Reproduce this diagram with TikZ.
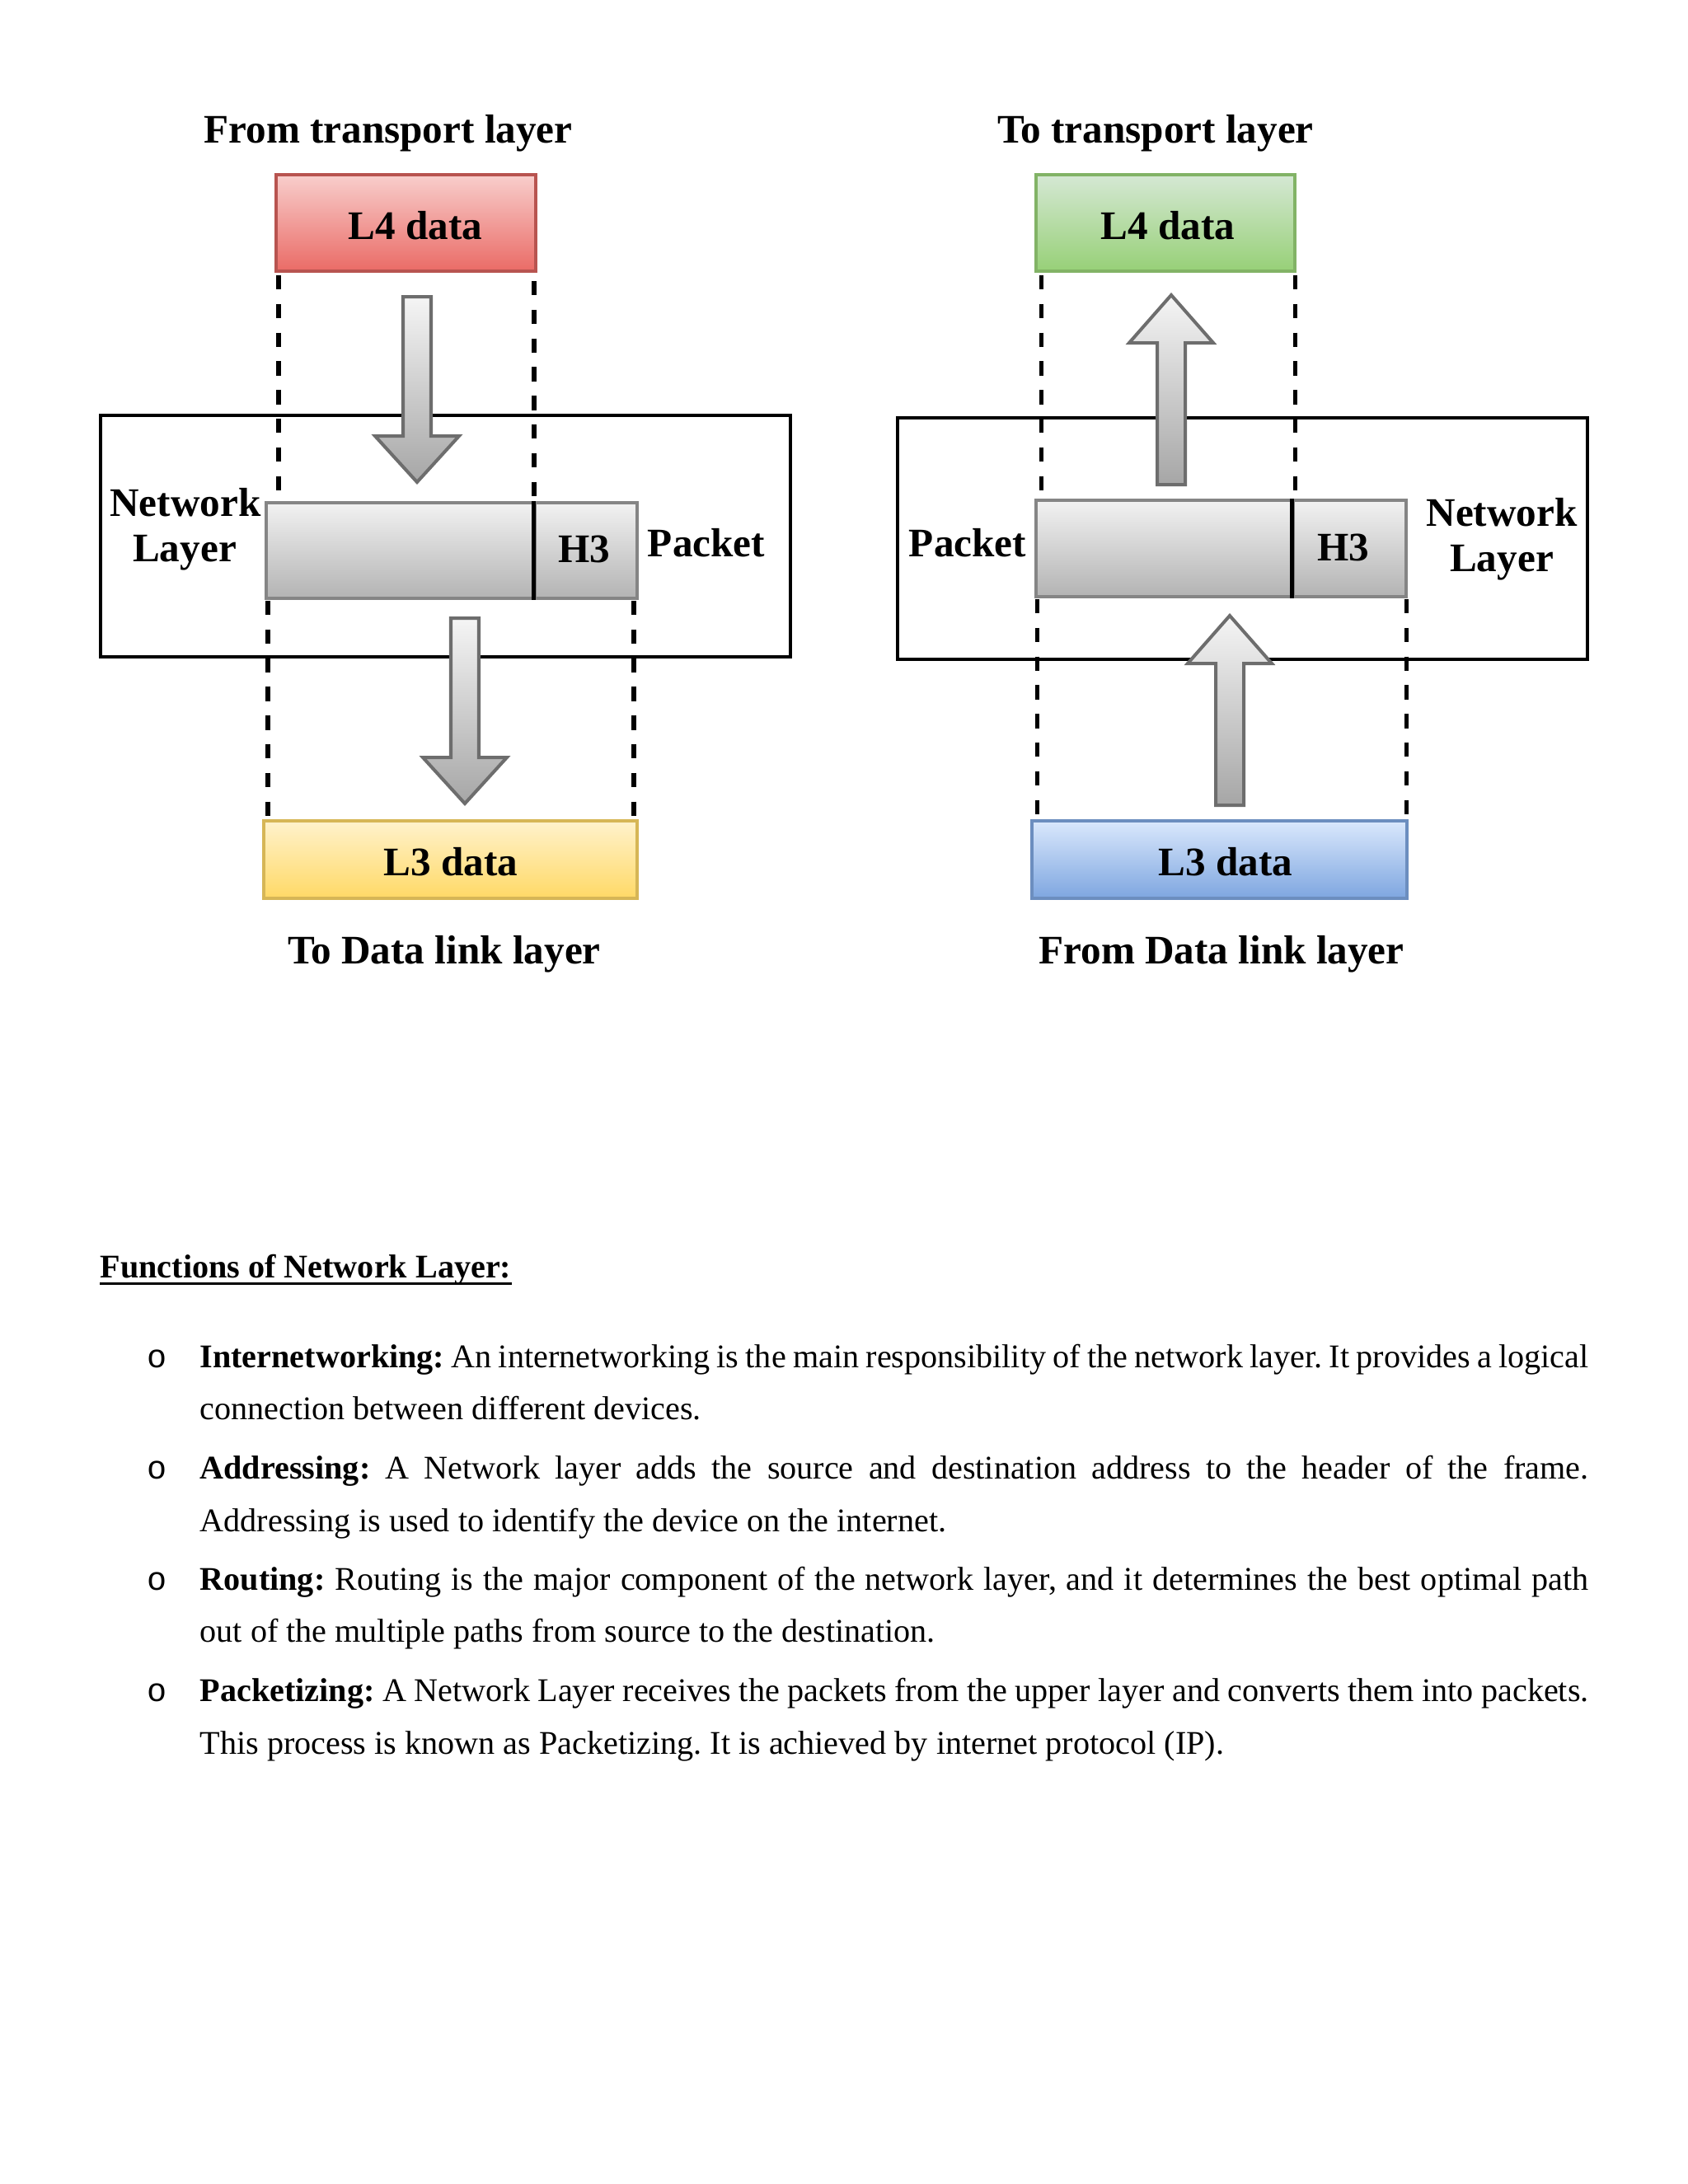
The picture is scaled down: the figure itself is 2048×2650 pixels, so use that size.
\documentclass[tikz,border=0pt]{standalone}
\usepackage{fontspec}
\setmainfont{Liberation Serif}
\newfontfamily\bulletfont{Liberation Mono}
\usetikzlibrary{calc}
\def\PX{0.29883pt}
\definecolor{redtop}{HTML}{F8CECC}
\definecolor{redbot}{HTML}{EA6B66}
\definecolor{redline}{HTML}{B85450}
\definecolor{greentop}{HTML}{D5E8D4}
\definecolor{greenbot}{HTML}{97D077}
\definecolor{greenline}{HTML}{82B366}
\definecolor{yeltop}{HTML}{FFF2CC}
\definecolor{yelbot}{HTML}{FFD966}
\definecolor{yelline}{HTML}{D6B656}
\definecolor{bluetop}{HTML}{DAE8FC}
\definecolor{bluebot}{HTML}{7EA6E0}
\definecolor{blueline}{HTML}{6C8EBF}
\definecolor{arrowedge}{HTML}{6D6D6D}
\definecolor{arrowtop}{HTML}{F5F5F5}
\definecolor{arrowbot}{HTML}{A6A6A6}
\definecolor{baredge}{HTML}{858585}
\definecolor{bartop}{HTML}{F2F2F2}
\definecolor{barbot}{HTML}{B3B3B3}
\tikzset{
  lbl/.style={font=\bfseries\fontsize{14.7pt}{17pt}\selectfont, inner sep=0pt, anchor=base},
  bodyline/.style={font=\frenchspacing\fontsize{12pt}{19pt}\selectfont, inner sep=0pt, anchor=base west},
  bulletmark/.style={font=\bulletfont\fontsize{12pt}{14pt}\selectfont, inner sep=0pt, anchor=base},
  layerbox/.style={draw=black, line width=1.1pt, rectangle, inner sep=0pt},
  guide/.style={line width=1.5pt, dash pattern=on 5.2pt off 5.2pt},
  bigarrow/.style={draw=arrowedge, line width=1.2pt, top color=arrowtop, bottom color=arrowbot, line join=miter},
  barpart/.style={draw=baredge, line width=1pt, top color=bartop, bottom color=barbot, rectangle, inner sep=0pt},
  divider/.style={draw=black, line width=1.3pt},
  databox/.style={rectangle, inner sep=0pt, line width=1pt},
  redbox/.style={databox, draw=redline, top color=redtop, bottom color=redbot},
  greenbox/.style={databox, draw=greenline, top color=greentop, bottom color=greenbot},
  yelbox/.style={databox, draw=yelline, top color=yeltop, bottom color=yelbot},
  bluebox/.style={databox, draw=blueline, top color=bluetop, bottom color=bluebot},
}
\newcommand{\jline}[1]{\makebox[503.5pt][s]{#1}}
\begin{document}
\begin{tikzpicture}[x=0.29883pt, y=-0.29883pt]
\useasboundingbox[fill=white] (0,0) rectangle (2048,2650);

% ---------------- left diagram ----------------
\node[layerbox, minimum width=837*\PX, minimum height=293*\PX] (netL) at (540.5,650.5) {};
\node[redbox, minimum width=315*\PX, minimum height=117*\PX] (l4L) at (492.5,270.5) {};
\node[barpart, minimum width=326*\PX, minimum height=116*\PX] (pktL) at (486,668) {};
\node[barpart, minimum width=124*\PX, minimum height=116*\PX] (hdrL) at (711,668) {};
\node[yelbox, minimum width=453*\PX, minimum height=94*\PX] (l3L) at (546.5,1043) {};

\draw[guide] (338,334) -- (338,609);
\draw[guide] (648,341) -- (648,609);
\draw[guide] (325,729) -- (325,995);
\draw[guide] (769,729) -- (769,995);
\draw[divider] (hdrL.north west) -- (hdrL.south west);

\draw[bigarrow] (489,360) -- (523,360) -- (523,529) -- (557,529) -- (506,585) -- (455,529) -- (489,529) -- cycle;
\draw[bigarrow] (547,750) -- (581,750) -- (581,919) -- (615,919) -- (564,975) -- (513,919) -- (547,919) -- cycle;

\node[lbl] (tfromT) at (471,173) {From transport layer};
\node[lbl] (tl4L) at (504,290) {L4 data};
\node[lbl] (tnetL1) at (225,626) {Network};
\node[lbl] (tnetL2) at (224,681) {Layer};
\node[lbl] (th3L) at (709,682) {H3};
\node[lbl] (tpktL) at (857,675) {Packet};
\node[lbl] (tl3L) at (547,1062) {L3 data};
\node[lbl] (ttoD) at (539,1169) {To Data link layer};

% ---------------- right diagram ----------------
\node[layerbox, minimum width=837*\PX, minimum height=293*\PX] (netR) at (1507.5,653.5) {};
\node[greenbox, minimum width=314*\PX, minimum height=117*\PX] (l4R) at (1414,270.5) {};
\node[barpart, minimum width=312*\PX, minimum height=117*\PX] (pktR) at (1413,665.5) {};
\node[barpart, minimum width=137*\PX, minimum height=117*\PX] (hdrR) at (1637.5,665.5) {};
\node[bluebox, minimum width=455*\PX, minimum height=94*\PX] (l3R) at (1479.5,1043) {};

\draw[guide] (1263,334) -- (1263,606);
\draw[guide] (1571,334) -- (1571,606);
\draw[guide] (1258,727) -- (1258,995);
\draw[guide] (1706,727) -- (1706,995);
\draw[divider] (hdrR.north west) -- (hdrR.south west);

\draw[bigarrow] (1421,358) -- (1472,416) -- (1438,416) -- (1438,588) -- (1404,588) -- (1404,416) -- (1370,416) -- cycle;
\draw[bigarrow] (1492,747) -- (1543,805) -- (1509,805) -- (1509,977) -- (1475,977) -- (1475,805) -- (1441,805) -- cycle;

\node[lbl] (ttoT) at (1402,173) {To transport layer};
\node[lbl] (tl4R) at (1417,290) {L4 data};
\node[lbl] (tpktR) at (1174,675) {Packet};
\node[lbl] (th3R) at (1630,680) {H3};
\node[lbl] (tnetR1) at (1822,638) {Network};
\node[lbl] (tnetR2) at (1822,693) {Layer};
\node[lbl] (tl3R) at (1487,1062) {L3 data};
\node[lbl] (tfromD) at (1482,1169) {From Data link layer};

% ---------------- text ----------------
\node[bodyline, font=\bfseries\fontsize{12pt}{14pt}\selectfont] (head) at (121,1550) {Functions of Network Layer:};
\draw[line width=0.9pt] ([yshift=-2.1pt]head.base west) -- ([yshift=-2.1pt]head.base east);

\node[bulletmark] (b1) at (191,1659) {o};
\node[bodyline] (t1a) at (242,1659) {\jline{\textbf{Internetworking:} An internetworking is the main responsibility of the network layer. It provides a logical}};
\node[bodyline] (t1b) at (242,1722) {connection between different devices.};

\node[bulletmark] (b2) at (191,1794) {o};
\node[bodyline] (t2a) at (242,1794) {\jline{\textbf{Addressing:} A Network layer adds the source and destination address to the header of the frame.}};
\node[bodyline] (t2b) at (242,1858) {Addressing is used to identify the device on the internet.};

\node[bulletmark] (b3) at (191,1929) {o};
\node[bodyline] (t3a) at (242,1929) {\jline{\textbf{Routing:} Routing is the major component of the network layer, and it determines the best optimal path}};
\node[bodyline] (t3b) at (242,1992) {out of the multiple paths from source to the destination.};

\node[bulletmark] (b4) at (191,2064) {o};
\node[bodyline] (t4a) at (242,2064) {\jline{\textbf{Packetizing:} A Network Layer receives the packets from the upper layer and converts them into packets.}};
\node[bodyline] (t4b) at (242,2128) {This process is known as Packetizing. It is achieved by internet protocol (IP).};
\end{tikzpicture}
\end{document}
